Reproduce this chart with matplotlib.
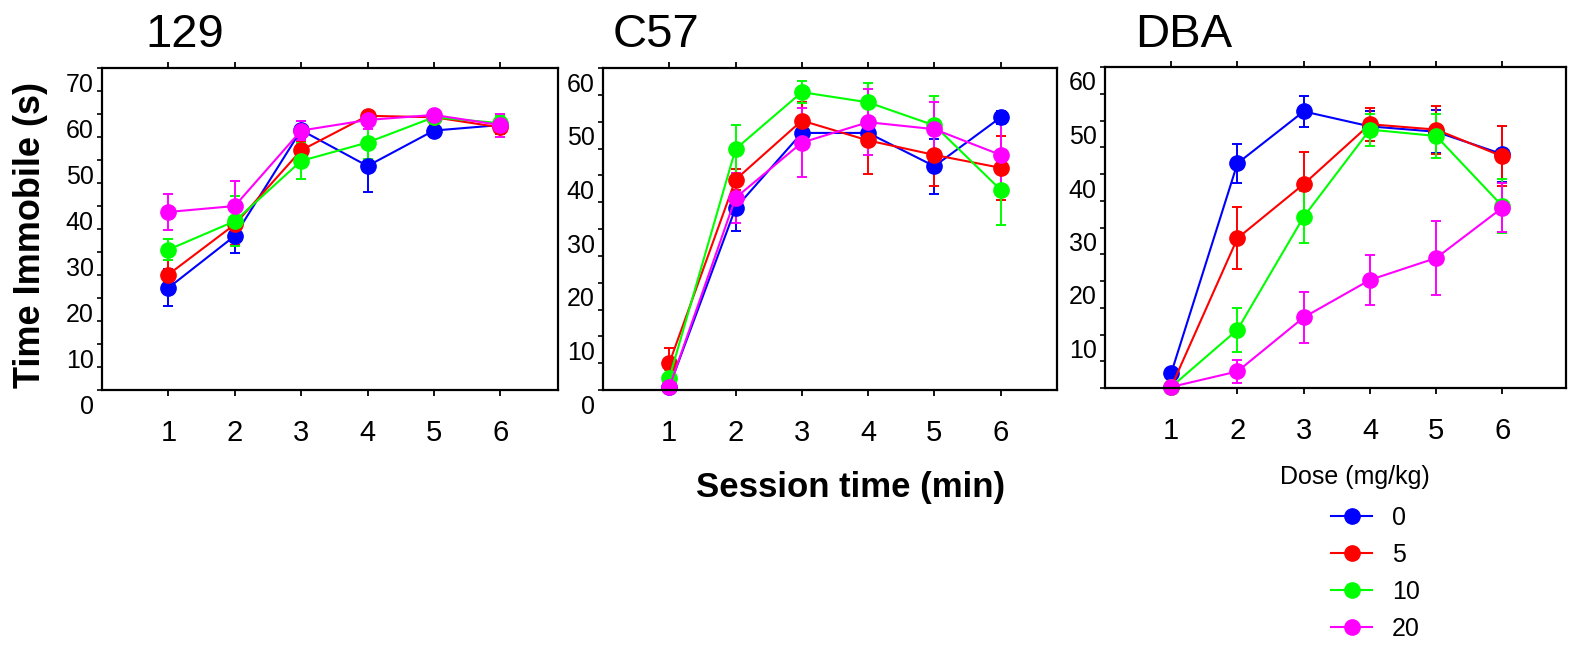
import matplotlib
matplotlib.use("Agg")
import matplotlib.pyplot as plt
from matplotlib.ticker import MultipleLocator
from matplotlib.transforms import ScaledTranslation

plt.rcParams['font.family'] = ['Liberation Sans', 'DejaVu Sans']

# Datos
minutes = [1, 2, 3, 4, 5, 6]
doses = ['0', '5', '10', '20']
colors = ['#0000ff', '#ff0000', '#00ff00', '#ff00ff']
strains = ['129', 'C57', 'DBA']

# tiempo inmovil medio (s), una fila por dosis
mean_129 = [[22.2, 33.5, 56.5, 48.7, 56.4, 57.6],
            [25.1, 36.0, 52.1, 59.6, 59.3, 57.1],
            [30.5, 36.7, 49.8, 53.8, 59.3, 58.0],
            [38.7, 40.0, 56.4, 58.7, 59.8, 57.6]]
sem_129 = [[4.0, 3.8, 2.0, 5.6, 1.2, 1.0],
           [3.2, 4.5, 2.0, 1.0, 1.0, 1.5],
           [2.3, 5.5, 4.0, 3.5, 1.5, 1.5],
           [4.0, 5.4, 2.0, 2.0, 1.0, 2.5]]

mean_c57 = [[0.6, 33.9, 47.9, 47.9, 41.7, 50.8],
            [5.0, 39.2, 50.2, 46.5, 43.8, 41.4],
            [2.2, 44.9, 55.5, 53.6, 49.3, 37.3],
            [0.5, 35.8, 46.1, 49.9, 48.6, 43.8]]
sem_c57 = [[0.5, 4.2, 3.0, 2.5, 5.1, 1.2],
           [2.9, 2.0, 3.5, 6.2, 5.8, 6.0],
           [1.5, 4.4, 2.0, 3.6, 5.4, 6.6],
           [0.5, 4.6, 6.4, 6.2, 5.0, 6.2]]

mean_dba = [[2.8, 42.0, 51.7, 48.9, 47.9, 43.7],
            [0.2, 28.0, 38.1, 49.3, 48.3, 43.3],
            [0.2, 10.9, 32.0, 48.3, 47.1, 34.0],
            [0.2, 3.1, 13.2, 20.2, 24.3, 33.7]]
sem_dba = [[1.0, 3.7, 2.9, 2.8, 4.0, 5.2],
           [0.3, 5.8, 6.0, 3.1, 4.5, 5.6],
           [0.3, 4.1, 4.9, 3.0, 4.2, 5.1],
           [0.3, 2.2, 4.7, 4.6, 7.0, 4.6]]

means = [mean_129, mean_c57, mean_dba]
sems = [sem_129, sem_c57, sem_dba]
ymax = [70, 60, 60]
yticks = [[0, 10, 20, 30, 40, 50, 60, 70],
          [0, 10, 20, 30, 40, 50, 60],
          [10, 20, 30, 40, 50, 60]]

W, H = 1573, 649
fig = plt.figure(figsize=(W / 100, H / 100), dpi=100)

# caja de cada panel en pixeles: izq, der, arriba, abajo, xmax
boxes = [(102, 558, 68, 390, 6.87),
         (603, 1057, 68, 390, 6.85),
         (1105, 1566, 67, 388, 6.96)]
title_x = [145, 613, 1135]

down = ScaledTranslation(0, -0.14, fig.dpi_scale_trans)

handles = []
for i in range(3):
    l, r, t, b, xmax = boxes[i]
    ax = fig.add_axes([l / W, 1 - b / H, (r - l) / W, (b - t) / H])
    for k in range(4):
        eb = ax.errorbar(minutes, means[i][k], yerr=sems[i][k], color=colors[k],
                         marker='o', markersize=11, linewidth=1.5, elinewidth=1.4,
                         capsize=3.5, capthick=1.4, clip_on=False)
        if i == 0:
            handles.append(eb[0])
    ax.set_xlim(0, xmax)
    ax.set_ylim(0, ymax[i])
    ax.set_xticks(minutes)
    ax.set_yticks(yticks[i])
    ax.yaxis.set_minor_locator(MultipleLocator(5))
    ax.tick_params(axis='x', direction='out', length=4, width=1.3, top=True,
                   labelsize=21, pad=17)
    ax.tick_params(axis='y', which='both', direction='out', length=3.5, width=1.2,
                   labelsize=18, pad=2.5)
    for lbl in ax.get_yticklabels():
        lbl.set_transform(lbl.get_transform() + down)
    for s in ax.spines.values():
        s.set_linewidth(1.6)
    fig.text(title_x[i] / W, 1 - 47 / H, strains[i], fontsize=34, va='baseline', ha='left')

fig.text(31 / W, 1 - 235 / H, 'Time Immobile (s)', rotation=90, fontsize=26,
         fontweight='bold', ha='center', va='center')
fig.text(851 / W, 1 - 497 / H, 'Session time (min)', fontsize=25,
         fontweight='bold', ha='center', va='baseline')

fig.text(1355 / W, 1 - 477 / H, 'Dose (mg/kg)', fontsize=18, ha='center', va='center')
fig.legend(handles, doses, loc='upper left', bbox_to_anchor=(1331 / W, 1 - 506 / H),
           frameon=False, fontsize=18, numpoints=1, handlelength=1.64,
           handletextpad=0.8, labelspacing=0.52, borderpad=0, borderaxespad=0)

fig.savefig('out.png', dpi=100)
